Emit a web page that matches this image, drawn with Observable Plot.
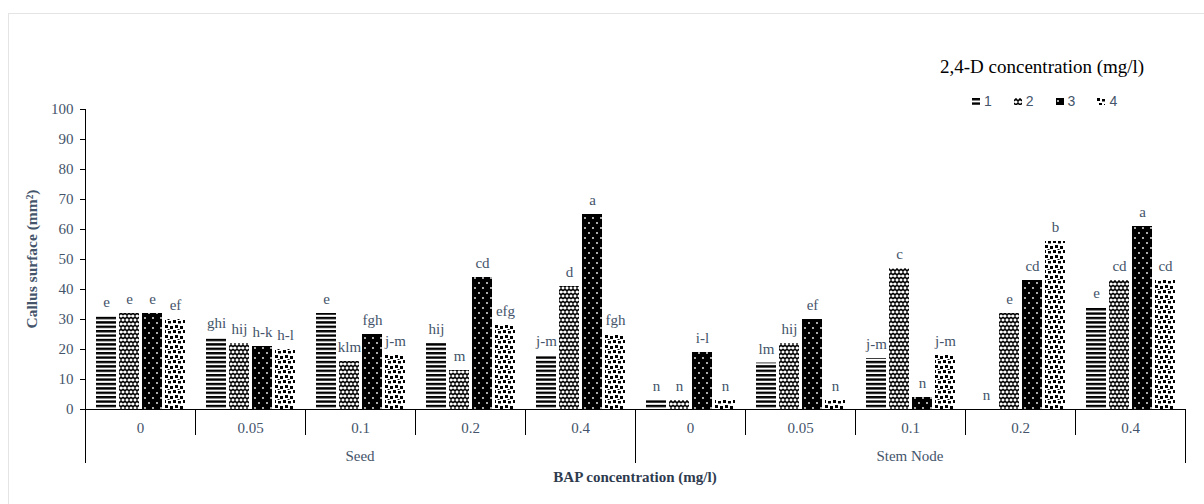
<!DOCTYPE html>
<html>
<head>
<meta charset="utf-8">
<script src="https://cdn.jsdelivr.net/npm/d3@7"></script>
<script src="https://cdn.jsdelivr.net/npm/@observablehq/plot@0.6"></script>
<style>
  body { margin: 0; background: #fff; }
  #wrap { position: relative; width: 1204px; height: 504px; overflow: hidden; background: #fff; }
  #chart { position: absolute; left: 0; top: 0; }
  #frame { position: absolute; left: 8px; top: 13px; width: 1400px; height: 700px;
           border-left: 1px solid #e4e4e4; border-top: 1px solid #e4e4e4; pointer-events: none; }
  #title { position: absolute; left: 940px; top: 56px; font: 19px "Liberation Serif", serif; color: #000; white-space: nowrap; }
  #legend { position: absolute; left: 972px; top: 93px; font: 14px "Liberation Sans", sans-serif; color: #44546a;
            display: flex; align-items: center; white-space: nowrap; }
  .item { display: flex; align-items: center; margin-right: 22px; }
  .item svg { margin-right: 4px; }
</style>
</head>
<body>
<svg width="0" height="0" style="position:absolute">
  <defs>
    <pattern id="pat1" patternUnits="userSpaceOnUse" width="6" height="4.4">
      <rect width="6" height="4.4" fill="#fff"/>
      <rect y="0" width="6" height="2.4" fill="#000"/>
    </pattern>
    <pattern id="pat2" patternUnits="userSpaceOnUse" width="8" height="8">
      <rect width="8" height="8" fill="#fff"/>
      <path d="M0,3 L2,1 L4,3 L6,1 L8,3 M0,5 L2,7 L4,5 L6,7 L8,5" fill="none" stroke="#000" stroke-width="1.6"/>
    </pattern>
    <pattern id="pat3" patternUnits="userSpaceOnUse" width="8" height="10">
      <rect width="8" height="10" fill="#000"/>
      <circle cx="2" cy="3" r="0.9" fill="#fff"/>
      <circle cx="6" cy="8" r="0.9" fill="#fff"/>
    </pattern>
    <pattern id="pat4" patternUnits="userSpaceOnUse" width="10" height="10">
      <rect width="10" height="10" fill="#fff"/>
      <rect x="0" y="0" width="3" height="3" fill="#000"/>
      <rect x="5" y="1" width="3" height="2.5" fill="#000"/>
      <rect x="2" y="5" width="3" height="3" fill="#000"/>
      <rect x="7" y="6" width="3" height="3" fill="#000"/>
      <rect x="4.5" y="9" width="2" height="1" fill="#000"/>
    </pattern>
  </defs>
</svg>
<div id="wrap">
  <div id="chart"></div>
  <div id="title">2,4-D concentration (mg/l)</div>
  <div id="legend"></div>
  <div id="frame"></div>
</div>
<script>
// ---- data ----
const explants = ["Seed", "Stem Node"];
const bapLevels = ["0", "0.05", "0.1", "0.2", "0.4"];
const dLevels = ["1", "2", "3", "4"];
const seedValues = [
  [31, 32, 32, 30],
  [24, 22, 21, 20],
  [32, 16, 25, 18],
  [22, 13, 44, 28],
  [18, 41, 65, 25]
];
const seedLetters = [
  ["e", "e", "e", "ef"],
  ["ghi", "hij", "h-k", "h-l"],
  ["e", "klm", "fgh", "j-m"],
  ["hij", "m", "cd", "efg"],
  ["j-m", "d", "a", "fgh"]
];
const stemValues = [
  [3, 3, 19, 3],
  [15.5, 22, 30, 3],
  [17, 47, 4, 18],
  [0, 32, 43, 56],
  [34, 43, 61, 43]
];
const stemLetters = [
  ["n", "n", "i-l", "n"],
  ["lm", "hij", "ef", "n"],
  ["j-m", "c", "n", "j-m"],
  ["n", "e", "cd", "b"],
  ["e", "cd", "a", "cd"]
];
const yTicks = [0, 10, 20, 30, 40, 50, 60, 70, 80, 90, 100];
const titleY = "Callus surface (mm²)";
const titleX = "BAP concentration (mg/l)";

// ---- table built from arrays ----
const valuesByExplant = {"Seed": seedValues, "Stem Node": stemValues};
const lettersByExplant = {"Seed": seedLetters, "Stem Node": stemLetters};
const groups = [];
const rows = [];
explants.forEach(e => bapLevels.forEach((b, bi) => {
  const g = e + "|" + b;
  groups.push(g);
  dLevels.forEach((lv, li) => rows.push({
    group: g, explant: e, bap: b, level: lv,
    value: valuesByExplant[e][bi][li],
    letter: lettersByExplant[e][bi][li]
  }));
}));

const slate = "#44546a";
const FS = 15;

const plot = Plot.plot({
  width: 1204,
  height: 504,
  marginTop: 109,
  marginBottom: 95,
  marginLeft: 82,
  marginRight: 16,
  style: {fontFamily: "Liberation Serif, serif", fontSize: FS + "px", color: slate, background: "transparent", overflow: "visible"},
  fx: {domain: groups, padding: 0},
  x: {domain: dLevels, paddingInner: 0.15, paddingOuter: 0.43, axis: null},
  y: {domain: [0, 100]},
  marks: [
    Plot.axisY(yTicks, {tickSize: 5, tickPadding: 7, fontSize: FS, stroke: "#000", fill: slate, label: null}),
    Plot.axisFx({anchor: "bottom", tickSize: 0, tickPadding: 13, fontSize: FS, fill: slate, label: null, tickFormat: k => k.split("|")[1]}),
    ...dLevels.map((lv, i) => Plot.barY(rows.filter(r => r.level === lv), {
      fx: "group", x: "level", y: "value", fill: `url(#pat${i + 1})`
    })),
    Plot.text(rows, {fx: "group", x: "level", y: "value", text: "letter", dy: -14, fontSize: FS, fill: slate})
  ]
});
document.getElementById("chart").appendChild(plot);

// axis decorations using the plot's own scales
const svg = d3.select(plot);
const fx = plot.scale("fx");
const y = plot.scale("y");
const bw = fx.bandwidth;
const y0 = y.apply(0);
const yTop = y.apply(100);
const left = fx.apply(groups[0]);
const right = fx.apply(groups[groups.length - 1]) + bw;
const deco = svg.append("g").attr("stroke", "#000").attr("stroke-width", 1).attr("shape-rendering", "crispEdges");
deco.append("line").attr("x1", left).attr("x2", left).attr("y1", yTop).attr("y2", y0 + 54);
deco.append("line").attr("x1", left).attr("x2", right).attr("y1", y0).attr("y2", y0);
groups.forEach((g, i) => {
  const xl = fx.apply(g);
  if (i > 0) {
    deco.append("line").attr("x1", xl).attr("x2", xl).attr("y1", y0).attr("y2", i % 5 === 0 ? y0 + 54 : y0 + 26);
  }
});
deco.append("line").attr("x1", right).attr("x2", right).attr("y1", y0).attr("y2", y0 + 54);

const labels = svg.append("g").attr("font-family", "Liberation Serif, serif").attr("font-size", FS).attr("fill", slate).attr("text-anchor", "middle");
explants.forEach((e, ei) => {
  const a = fx.apply(groups[ei * 5]);
  const b = fx.apply(groups[ei * 5 + 4]) + bw;
  labels.append("text").attr("x", (a + b) / 2).attr("y", y0 + 47).attr("dy", "0.32em").text(e);
});
labels.append("text").attr("x", (left + right) / 2).attr("y", y0 + 68).attr("dy", "0.32em")
  .attr("font-weight", "bold").attr("fill", "#2f3b4f").text(titleX);
labels.append("text").attr("transform", `translate(32,${(yTop + y0) / 2}) rotate(-90)`).attr("dy", "0.32em")
  .attr("font-weight", "bold").attr("font-size", 15.5).text(titleY);

// legend
const legend = document.getElementById("legend");
dLevels.forEach((lv, i) => {
  const item = document.createElement("div");
  item.className = "item";
  item.innerHTML = `<svg width="8" height="7"><rect width="8" height="7" fill="url(#pat${i + 1})"/></svg><span>${lv}</span>`;
  legend.appendChild(item);
});
</script>
</body>
</html>
